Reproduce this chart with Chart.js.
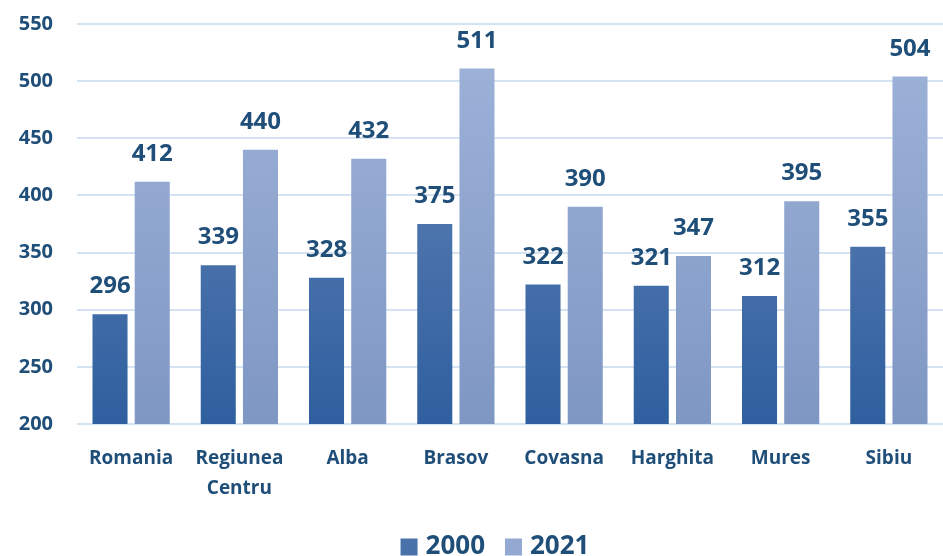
<!DOCTYPE html>
<html>
<head>
<meta charset="utf-8">
<script src="https://cdn.jsdelivr.net/npm/chart.js@4"></script>
<style>
  html, body { margin: 0; padding: 0; background: #fff; }
  #wrap { width: 943px; height: 556px; }
</style>
</head>
<body>
<div id="wrap"><canvas id="chart"></canvas></div>
<script>
const categories = ['Romania', ['Regiunea', 'Centru'], 'Alba', 'Brasov', 'Covasna', 'Harghita', 'Mures', 'Sibiu'];
const values2000 = [296, 339, 328, 375, 322, 321, 312, 355];
const values2021 = [412, 440, 432, 511, 390, 347, 395, 504];
const seriesNames = ['2000', '2021'];
const yTicks = [200, 250, 300, 350, 400, 450, 500, 550];

const textColor = '#1f4e79';
const fontFamily = "'Open Sans', 'DejaVu Sans', sans-serif";
const legendColors = ['#4a72aa', '#93a9d2'];

function makeGradient(ctx, area, top, bottom) {
    const g = ctx.createLinearGradient(0, area.top, 0, area.bottom);
    g.addColorStop(0, top);
    g.addColorStop(1, bottom);
    return g;
}

function barFill(top, bottom) {
    return (context) => {
        const chart = context.chart;
        if (!chart.chartArea) return bottom;
        return makeGradient(chart.ctx, chart.chartArea, top, bottom);
    };
}

// value above each bar
const valueLabels = {
    id: 'valueLabels',
    afterDatasetsDraw(chart) {
        const ctx = chart.ctx;
        ctx.save();
        ctx.font = 'bold 24px ' + fontFamily;
        ctx.fillStyle = textColor;
        ctx.textAlign = 'center';
        ctx.textBaseline = 'alphabetic';
        chart.data.datasets.forEach((ds, i) => {
            chart.getDatasetMeta(i).data.forEach((bar, j) => {
                ctx.fillText(ds.data[j], bar.x, bar.y - 21);
            });
        });
        ctx.restore();
    }
};

// legend drawn by hand so it sits right at the bottom
const bottomLegend = {
    id: 'bottomLegend',
    afterDraw(chart) {
        const ctx = chart.ctx;
        ctx.save();
        ctx.font = 'bold 26px ' + fontFamily;
        ctx.textBaseline = 'middle';
        const box = 17, gapBoxText = 8, gapItems = 20;
        const widths = seriesNames.map(s => ctx.measureText(s).width);
        let total = 0;
        widths.forEach((w, i) => { total += box + gapBoxText + w + (i ? gapItems : 0); });
        let x = 495 - total / 2;
        const y = 547;
        seriesNames.forEach((s, i) => {
            ctx.fillStyle = legendColors[i];
            ctx.fillRect(x, y - box / 2, box, box);
            x += box + gapBoxText;
            ctx.fillStyle = textColor;
            ctx.fillText(s, x, y);
            x += widths[i] + gapItems;
        });
        ctx.restore();
    }
};

new Chart(document.getElementById('chart'), {
    type: 'bar',
    data: {
        labels: categories,
        datasets: [
            {
                label: seriesNames[0],
                data: values2000,
                backgroundColor: barFill('#6a89ba', '#2f5f9f'),
                categoryPercentage: 0.78,
                barPercentage: 0.83
            },
            {
                label: seriesNames[1],
                data: values2021,
                backgroundColor: barFill('#a0b4da', '#7e97c3'),
                categoryPercentage: 0.78,
                barPercentage: 0.83
            }
        ]
    },
    options: {
        responsive: true,
        maintainAspectRatio: false,
        animation: false,
        layout: { padding: { top: 24, right: 0, left: 0, bottom: 42 } },
        plugins: {
            legend: { display: false },
            tooltip: { enabled: false }
        },
        scales: {
            x: {
                grid: { display: false },
                border: { display: false },
                afterFit(axis) {
                    axis.height = 90;
                },
                ticks: {
                    color: textColor,
                    font: { family: fontFamily, size: 19, weight: 'bold', lineHeight: 1.6 },
                    padding: 11,
                    maxRotation: 0
                }
            },
            y: {
                min: 200,
                max: 550,
                afterBuildTicks(axis) {
                    axis.ticks = yTicks.map(v => ({ value: v }));
                },
                afterFit(axis) {
                    axis.width = 77;
                },
                // invisible tick marks push the labels left without padding the top
                grid: { color: '#d5e2f1', lineWidth: 2, drawTicks: true, tickLength: 24, tickColor: 'rgba(0,0,0,0)' },
                border: { display: false },
                ticks: {
                    color: textColor,
                    font: { family: fontFamily, size: 20, weight: 'bold' },
                    padding: 0
                }
            }
        }
    },
    plugins: [valueLabels, bottomLegend]
});
</script>
</body>
</html>
